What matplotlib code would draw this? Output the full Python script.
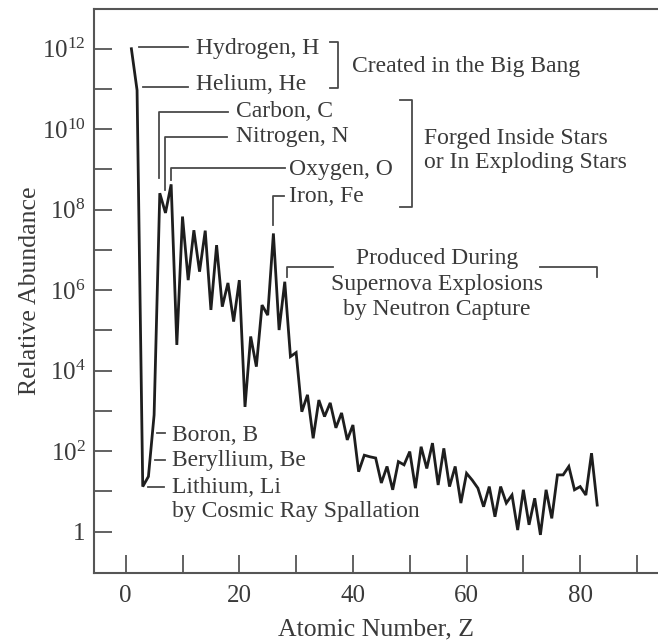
import numpy as np
import matplotlib
matplotlib.use("Agg")
import matplotlib.pyplot as plt
from matplotlib.ticker import FixedLocator, NullFormatter

plt.rcParams['font.family'] = ['Liberation Serif', 'DejaVu Serif']
plt.rcParams['mathtext.fontset'] = 'custom'
plt.rcParams['mathtext.rm'] = 'Liberation Serif'

# Atomic number Z = 1..83 and log10 of the relative abundance
atomic_number = list(range(1, 84))
log_abundance = [
    12.0, 10.97, 1.12, 1.37, 2.9, 8.41, 7.92, 8.63, 4.64, 7.83,
    6.25, 7.49, 6.46, 7.48, 5.51, 7.12, 5.59, 6.18, 5.22, 6.25,
    3.1, 4.85, 4.1, 5.63, 5.38, 7.41, 5.01, 6.21, 4.35, 4.45,
    2.98, 3.40, 2.32, 3.27, 2.86, 3.2, 2.58, 2.95, 2.28, 2.65,
    1.49, 1.9, 1.86, 1.83, 1.21, 1.62, 1.04, 1.74, 1.66, 1.99,
    1.08, 2.11, 1.57, 2.2, 1.16, 2.07, 1.12, 1.62, 0.71, 1.45,
    1.28, 1.08, 0.62, 1.12, 0.37, 1.12, 0.71, 0.91, 0.04, 1.04,
    0.17, 0.83, -0.08, 1.04, 0.33, 1.41, 1.41, 1.62, 1.04, 1.12,
    0.91, 1.95, 0.66,
]
x_ticks = [0, 20, 40, 60, 80]
x_minor = [10, 30, 50, 70, 90]
y_exponents = [0, 2, 4, 6, 8, 10, 12]
y_minor_exp = [1, 3, 5, 7, 9, 11]

abundance = 10.0 ** np.array(log_abundance)

TXT = '#3a3a3a'
LEAD = '#4a4a4a'
FS = 17

fig = plt.figure(figsize=(6.58, 6.41), dpi=100)
ax = fig.add_axes([94 / 658, 68.3 / 641, (658 - 94) / 658, (572.7 - 9.3) / 641])

ax.plot(atomic_number, abundance, color='#1e1e1e', lw=2.0, solid_joinstyle='miter')
ax.set_yscale('log')
ax.set_xlim(-5.58, 93.7)
ax.set_ylim(10 ** -1.02, 10 ** 12.98)

ax.xaxis.set_major_locator(FixedLocator(x_ticks))
ax.xaxis.set_minor_locator(FixedLocator(x_minor))
ax.set_xticklabels([str(v) for v in x_ticks])
ax.yaxis.set_major_locator(FixedLocator([10.0 ** e for e in y_exponents]))
ax.yaxis.set_minor_locator(FixedLocator([10.0 ** e for e in y_minor_exp]))
ax.yaxis.set_minor_formatter(NullFormatter())
ax.set_yticklabels(['1' if e == 0 else r'$\mathregular{10^{%d}}$' % e for e in y_exponents])

ax.tick_params(which='both', direction='in', length=13, width=1.3, color='#555555',
               labelsize=18, labelcolor=TXT)
ax.tick_params(axis='y', which='both', pad=6)
ax.tick_params(axis='x', which='both', pad=9)
for side in ['left', 'bottom', 'top']:
    ax.spines[side].set_color('#555555')
    ax.spines[side].set_linewidth(1.5)
ax.spines['right'].set_visible(False)

ax.set_xlabel('Atomic Number, Z', fontsize=18.5, color=TXT, labelpad=8)
ax.set_ylabel('Relative Abundance', fontsize=18.5, color=TXT, labelpad=0.7)


def lead(xs, ys):
    ax.plot(xs, [10.0 ** v for v in ys], color=LEAD, lw=1.3, clip_on=False)


def label(x, y, s, ha='left'):
    ax.text(x, 10.0 ** y, s, fontsize=FS, color=TXT, ha=ha, va='center')


# Big Bang group
lead([2.34, 10.97], [12.05, 12.05])
lead([3.05, 10.97], [11.06, 11.06])
label(12.4, 12.0, 'Hydrogen, H')
label(12.4, 11.1, 'Helium, He')
lead([36.0, 37.4, 37.4, 36.0], [12.17, 12.17, 11.02, 11.02])
label(39.8, 11.55, 'Created in the Big Bang')

# Stellar group
lead([5.92, 5.92, 18.06], [8.79, 10.43, 10.43])
label(19.5, 10.45, 'Carbon, C')
lead([6.92, 6.92, 17.8], [8.49, 9.81, 9.81])
label(19.5, 9.83, 'Nitrogen, N')
lead([7.92, 7.92, 28.0], [8.73, 9.03, 9.03])
label(28.75, 9.0, 'Oxygen, O')
lead([26.0, 26.0, 27.9], [7.62, 8.34, 8.34])
label(28.8, 8.32, 'Iron, Fe')
lead([48.3, 50.4, 50.4, 48.3], [10.73, 10.73, 8.07, 8.07])
label(52.5, 9.77, 'Forged Inside Stars')
label(52.5, 9.17, 'or In Exploding Stars')

# Neutron capture group
lead([28.35, 28.35, 36.5], [6.34, 6.58, 6.58])
lead([72.9, 83.0, 83.0], [6.58, 6.58, 6.33])
label(54.8, 6.78, 'Produced During', ha='center')
label(54.8, 6.15, 'Supernova Explosions', ha='center')
label(54.8, 5.51, 'by Neutron Capture', ha='center')

# Cosmic ray spallation group
lead([5.46, 6.92], [2.45, 2.45])
lead([5.16, 6.92], [1.78, 1.78])
lead([3.98, 6.74], [1.12, 1.12])
label(8.1, 2.40, 'Boron, B')
label(8.1, 1.76, 'Beryllium, Be')
label(8.1, 1.10, 'Lithium, Li')
label(8.1, 0.50, 'by Cosmic Ray Spallation')

fig.savefig('out.png', dpi=100)
